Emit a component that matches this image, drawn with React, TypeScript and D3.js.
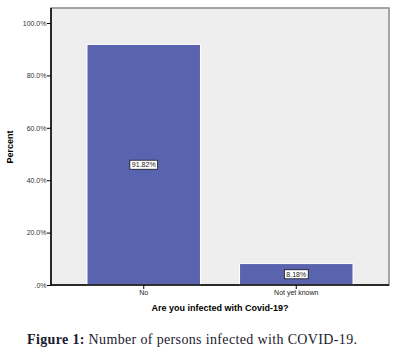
import React, { useEffect, useRef } from 'react';
import * as d3 from 'd3';

const categories = ['No', 'Not yet known'];
const percents = [91.82, 8.18];
const barLabels = ['91.82%', '8.18%'];
const yTicks = [0, 20, 40, 60, 80, 100];

const App = () => {
    const svgRef = useRef<SVGSVGElement>(null);

    useEffect(() => {
        const svg = d3.select(svgRef.current);
        svg.selectAll('*').remove();

        const left = 51, right = 389, top = 8, bottom = 285;

        const x = d3.scaleBand<string>()
            .domain(categories)
            .range([left, right])
            .paddingInner(0.256)
            .paddingOuter(0.236);

        const y = d3.scaleLinear()
            .domain([0, 100])
            .range([bottom, 23]);

        // plot background
        svg.append('rect')
            .attr('x', left).attr('y', top)
            .attr('width', right - left).attr('height', bottom - top)
            .attr('fill', '#eeeeee')
            .attr('stroke', '#8a8a8a')
            .attr('stroke-width', 1.5);

        const data = categories.map((c, i) => ({ c, v: percents[i], label: barLabels[i] }));

        svg.selectAll('.bar')
            .data(data)
            .enter()
            .append('rect')
            .attr('class', 'bar')
            .attr('x', d => x(d.c)!)
            .attr('width', x.bandwidth())
            .attr('y', d => y(d.v))
            .attr('height', d => bottom - y(d.v))
            .attr('fill', '#5a63ad')
            .attr('stroke', '#ffffff')
            .attr('stroke-width', 1);

        // value labels in boxes, sized to the text
        const lab = svg.selectAll('.lab')
            .data(data)
            .enter()
            .append('g')
            .attr('transform', d => `translate(${x(d.c)! + x.bandwidth() / 2},${y(d.v / 2)})`);
        const box = lab.append('rect')
            .attr('y', -4.5)
            .attr('height', 9)
            .attr('fill', '#ffffff')
            .attr('stroke', '#000000')
            .attr('stroke-width', 0.7);
        const txt = lab.append('text')
            .attr('text-anchor', 'middle')
            .attr('dy', '0.35em')
            .style('font-family', 'Liberation Sans, Arial, sans-serif')
            .style('font-size', '7px')
            .attr('fill', '#222')
            .text(d => d.label);
        txt.each(function (_, i) {
            const w = (this as SVGTextElement).getComputedTextLength() + 4;
            d3.select(box.nodes()[i]).attr('x', -w / 2).attr('width', w);
        });

        // y axis
        const yAxis = svg.append('g')
            .attr('transform', `translate(${left},0)`)
            .call(d3.axisLeft(y).tickValues(yTicks).tickSize(4).tickFormat(d => (+d === 0 ? '.0%' : (+d).toFixed(1) + '%')));
        yAxis.select('.domain').attr('stroke', '#000').attr('stroke-width', 1.5).attr('d', `M0,${top}V${bottom}`);
        yAxis.selectAll('.tick line').attr('stroke', '#000');
        yAxis.selectAll('.tick text')
            .attr('x', -4.5)
            .style('font-family', 'Liberation Sans, Arial, sans-serif')
            .style('font-size', '7px')
            .attr('fill', '#333');

        // x axis
        const xAxis = svg.append('g')
            .attr('transform', `translate(0,${bottom})`)
            .call(d3.axisBottom(x).tickSize(4));
        xAxis.select('.domain').attr('stroke', '#000').attr('stroke-width', 1.5).attr('d', `M${left},0H${right}`);
        xAxis.selectAll('.tick line').attr('stroke', '#000');
        xAxis.selectAll('.tick text')
            .attr('y', 5)
            .style('font-family', 'Liberation Sans, Arial, sans-serif')
            .style('font-size', '7px')
            .attr('fill', '#222');

        svg.append('text')
            .attr('x', 220)
            .attr('y', 311)
            .attr('text-anchor', 'middle')
            .style('font-family', 'Liberation Sans, Arial, sans-serif')
            .style('font-size', '9px')
            .style('font-weight', 'bold')
            .text('Are you infected with Covid-19?');

        svg.append('text')
            .attr('transform', 'translate(13,147) rotate(-90)')
            .attr('text-anchor', 'middle')
            .style('font-family', 'Liberation Sans, Arial, sans-serif')
            .style('font-size', '9px')
            .style('font-weight', 'bold')
            .text('Percent');

        const cap = svg.append('text')
            .attr('x', 27)
            .attr('y', 344)
            .attr('textLength', 330)
            .style('font-family', 'Liberation Serif, serif')
            .style('font-size', '14px')
            .attr('fill', '#1a1a2e');
        cap.append('tspan').style('font-weight', 'bold').text('Figure 1: ');
        cap.append('tspan').text('Number of persons infected with COVID-19.');
    }, []);

    return (
        <svg ref={svgRef} width={410} height={361}
            style={{ position: 'absolute', left: 0, top: 0, background: '#fff' }} />
    );
};

export default App;
